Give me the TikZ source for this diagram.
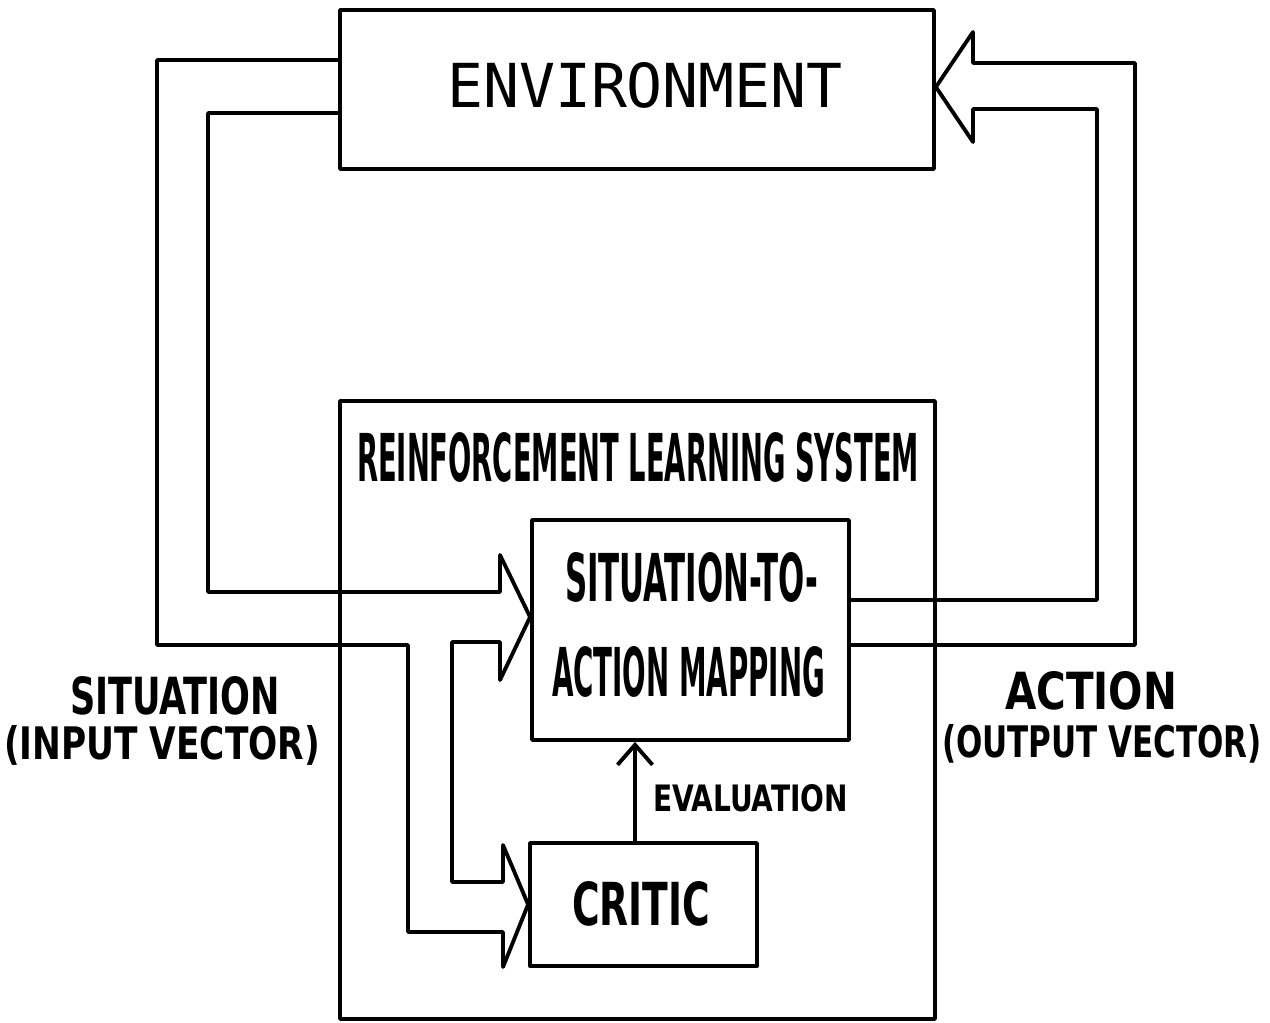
\documentclass[tikz,border=0pt]{standalone}
\usepackage{fontspec}
\usepackage{graphicx}
\usetikzlibrary{arrows.meta}

\newfontfamily\plotfont{DejaVu Sans Condensed}
\newfontfamily\penfont{DejaVu Sans Mono}

% plotter lettering: text stretched to a given width and cap height
\newcommand{\plottext}[3]{\resizebox{#1}{#2}{\plotfont\bfseries #3}}
\newcommand{\pentext}[3]{\resizebox{#1}{#2}{\penfont #3}}

\begin{document}
\begin{tikzpicture}[x=0.02cm, y=-0.02cm, line width=2.2pt, line join=round, line cap=round,
  box/.style={draw, rectangle, inner sep=0pt},
  lbl/.style={inner sep=0pt}]

\useasboundingbox (0,0) rectangle (1270,1023);

%%% --- Blocks --- %%%
\node[box, minimum width=11.88cm, minimum height=3.18cm] (env) at (637,89.5) {};
\node[lbl] (envname) at (645,85.5) {\pentext{7.92cm}{0.9cm}{ENVIRONMENT}};

\node[box, minimum width=11.9cm, minimum height=12.36cm] (rls) at (637.5,710) {};
\node[lbl] (rlsname) at (638,457.5) {\plottext{11.24cm}{0.98cm}{REINFORCEMENT LEARNING SYSTEM}};

\node[box, minimum width=6.34cm, minimum height=4.4cm] (sam) at (690.5,630) {};
\node[lbl] (samtop) at (691.5,577.5) {\plottext{5.06cm}{0.98cm}{SITUATION-TO-}};
\node[lbl] (sambot) at (688.5,672) {\plottext{5.46cm}{1.0cm}{ACTION MAPPING}};

\node[box, minimum width=4.54cm, minimum height=2.46cm] (critic) at (643.5,904.5) {};
\node[lbl] (criticname) at (641,904) {\plottext{2.76cm}{0.88cm}{CRITIC}};


%%% --- Situation band (input vector) --- %%%
\draw (env.west |- 0,60) -- (157,60) -- (157,645) -- (408,645) -- (408,932)
  -- (503,932) -- (503,967) -- (critic.west) -- (503,845) -- (503,882)
  -- (452,882) -- (452,642) -- (500,642) -- (500,680) -- (sam.west |- 0,617)
  -- (500,555) -- (500,592) -- (208,592) -- (208,113) -- (env.west |- 0,113);

\node[lbl] (sitname) at (175,696) {\plottext{4.2cm}{0.76cm}{SITUATION}};
\node[lbl] (sitvec) at (162,745) {\plottext{6.32cm}{0.68cm}{(INPUT VECTOR)}};


%%% --- Action band (output vector) --- %%%
\draw (sam.east |- 0,600) -- (1097,600) -- (1097,109) -- (973,109) -- (973,142)
  -- (env.east |- 0,87) -- (973,32) -- (973,63) -- (1135,63) -- (1135,645)
  -- (sam.east |- 0,645);

\node[lbl] (actname) at (1091,691) {\plottext{3.44cm}{0.76cm}{ACTION}};
\node[lbl] (actvec) at (1102,743.5) {\plottext{6.4cm}{0.66cm}{(OUTPUT VECTOR)}};


%%% --- Evaluation --- %%%
\draw[line width=1.8pt, -{Straight Barb[length=0.4cm, width=0.7cm, line width=2.2pt]}]
  (critic.north -| 635,0) -- (sam.south -| 635,0);
\node[lbl] (evalname) at (750.5,798.5) {\plottext{3.9cm}{0.54cm}{EVALUATION}};

\end{tikzpicture}
\end{document}
